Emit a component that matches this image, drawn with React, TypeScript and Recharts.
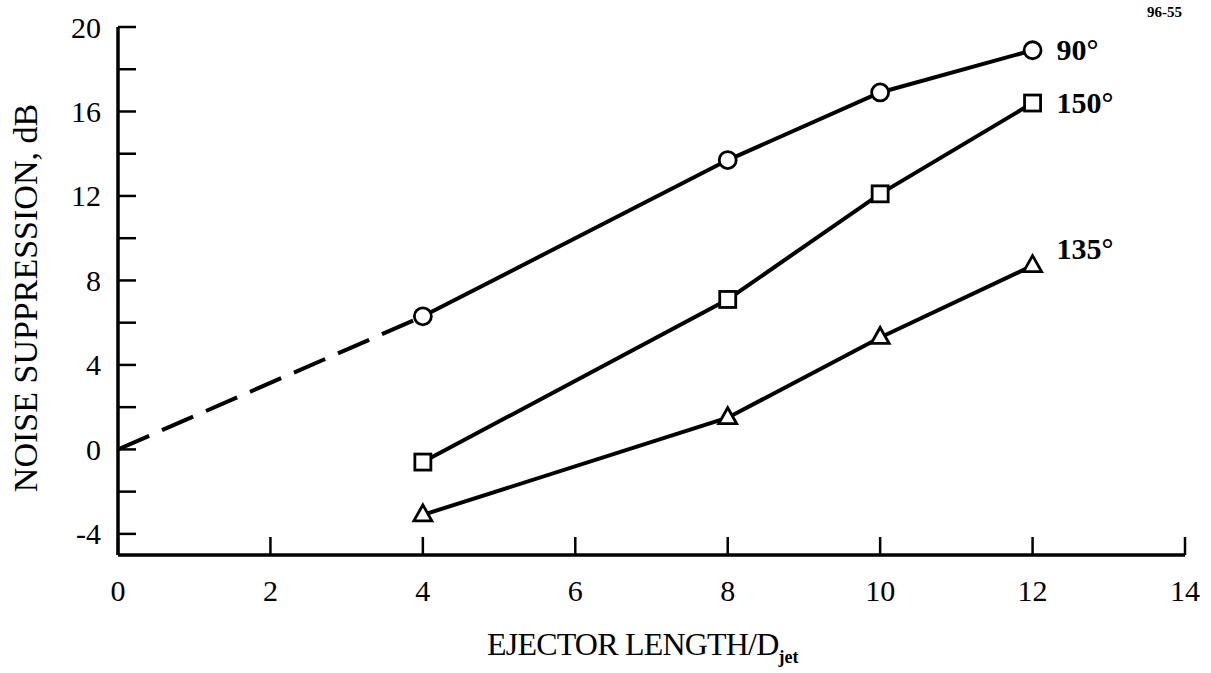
import React from "react";
import { LineChart, Line, XAxis, YAxis, LabelList } from "recharts";

// ejector length / D_jet where measurements were taken
const lengths = [4, 8, 10, 12];
// noise suppression (dB) per observer angle
const supp90 = [6.3, 13.7, 16.9, 18.9];
const supp150 = [-0.6, 7.1, 12.1, 16.4];
const supp135 = [-3.1, 1.5, 5.3, 8.7];
// dashed extrapolation of the 90 deg curve back to zero length
const extrapLengths = [0, 4];
const extrapSupp90 = [0, 6.3];

const seriesNames = ["90°", "150°", "135°"];
const xTicks = [0, 2, 4, 6, 8, 10, 12, 14];
const yTicks = [-4, -2, 0, 2, 4, 6, 8, 10, 12, 14, 16, 18, 20];
const yLabelled = [-4, 0, 4, 8, 12, 16, 20];

const FONT = "'Liberation Serif', 'Times New Roman', serif";
const INK = "#000";

const toRows = (xs: number[], ys: number[]) => xs.map((x, i) => ({ len: x, db: ys[i] }));

const rows90 = toRows(lengths, supp90);
const rows150 = toRows(lengths, supp150);
const rows135 = toRows(lengths, supp135);
const rowsExtrap = toRows(extrapLengths, extrapSupp90);

const CircleDot = (p: any) => (
  <circle key={`c${p.index}`} cx={p.cx} cy={p.cy} r={8.5} fill="#fff" stroke={INK} strokeWidth={2.8} />
);
const SquareDot = (p: any) => (
  <rect key={`s${p.index}`} x={p.cx - 8} y={p.cy - 8} width={16} height={16} fill="#fff" stroke={INK} strokeWidth={2.8} />
);
const TriangleDot = (p: any) => (
  <polygon
    key={`t${p.index}`}
    points={`${p.cx},${p.cy - 10} ${p.cx + 9},${p.cy + 6} ${p.cx - 9},${p.cy + 6}`}
    fill="#fff"
    stroke={INK}
    strokeWidth={2.8}
  />
);

const endLabel = (name: string, lastIndex: number, dy: number) => (p: any) => {
  if (p.index !== lastIndex) return null;
  return (
    <text x={p.x + 24} y={p.y + dy} fontFamily={FONT} fontWeight="bold" fontSize={30} fill={INK}>
      {name}
    </text>
  );
};

const XTick = (p: any) => (
  <text x={p.x} y={p.y} dy="0.72em" textAnchor="middle" fontFamily={FONT} fontSize={30} fill={INK}>
    {p.payload.value}
  </text>
);

const YTick = (p: any) =>
  yLabelled.includes(p.payload.value) ? (
    <text x={p.x} y={p.y} dy="0.35em" textAnchor="end" fontFamily={FONT} fontSize={30} fill={INK}>
      {p.payload.value}
    </text>
  ) : (
    <g />
  );

const XTitle = (p: any) => {
  const vb = p.viewBox;
  return (
    <text
      x={487}
      y={vb.y + 100}
      textAnchor="start"
      fontFamily={FONT}
      fontSize={32}
      letterSpacing={-0.8}
      fill={INK}
    >
      EJECTOR LENGTH/D
      <tspan fontSize={18} fontWeight="bold" letterSpacing={0} dy={8}>jet</tspan>
    </text>
  );
};

const YTitle = () => {
  const cy = 298;
  return (
    <text
      x={37}
      y={cy}
      transform={`rotate(-90, 37, ${cy})`}
      textAnchor="middle"
      fontFamily={FONT}
      fontSize={34}
      fill={INK}
    >
      NOISE SUPPRESSION, dB
    </text>
  );
};

const axisStroke = { stroke: INK, strokeWidth: 3.5 };
const tickLine = { stroke: INK, strokeWidth: 2.5 };

export default function App() {
  return (
    <div style={{ position: "absolute", left: 0, top: 0, width: 1211, height: 673, background: "#fff" }}>
      <LineChart width={1211} height={673} margin={{ top: 27, right: 26, bottom: 18, left: 18 }}>
        <XAxis
          xAxisId="b"
          dataKey="len"
          type="number"
          domain={[0, 14]}
          ticks={xTicks}
          allowDataOverflow
          height={100}
          tickSize={-18}
          tickMargin={42}
          tick={XTick}
          axisLine={axisStroke}
          tickLine={tickLine}
          label={XTitle}
        />
        <XAxis
          xAxisId="t"
          orientation="top"
          dataKey="len"
          type="number"
          domain={[0, 14]}
          ticks={xTicks}
          height={0}
          tickSize={-18}
          tickFormatter={() => ""}
          axisLine={axisStroke}
          tickLine={tickLine}
        />
        <YAxis
          yAxisId="l"
          dataKey="db"
          type="number"
          domain={[-5, 20]}
          ticks={yTicks}
          allowDataOverflow
          width={100}
          tickSize={-18}
          tickMargin={35}
          tick={YTick}
          axisLine={axisStroke}
          tickLine={tickLine}
          label={YTitle}
        />
        <YAxis
          yAxisId="r"
          orientation="right"
          dataKey="db"
          type="number"
          domain={[-5, 20]}
          ticks={yTicks}
          width={0}
          tickSize={-18}
          tickFormatter={() => ""}
          axisLine={axisStroke}
          tickLine={tickLine}
        />
        <Line
          xAxisId="b"
          yAxisId="l"
          data={rowsExtrap}
          dataKey="db"
          stroke={INK}
          strokeWidth={4}
          strokeDasharray="34 14"
          dot={false}
          isAnimationActive={false}
        />
        <Line
          xAxisId="b"
          yAxisId="l"
          data={rows90}
          dataKey="db"
          stroke={INK}
          strokeWidth={4}
          dot={CircleDot}
          isAnimationActive={false}
        >
          <LabelList dataKey="db" content={endLabel(seriesNames[0], lengths.length - 1, 10)} />
        </Line>
        <Line
          xAxisId="b"
          yAxisId="l"
          data={rows150}
          dataKey="db"
          stroke={INK}
          strokeWidth={4}
          dot={SquareDot}
          isAnimationActive={false}
        >
          <LabelList dataKey="db" content={endLabel(seriesNames[1], lengths.length - 1, 10)} />
        </Line>
        <Line
          xAxisId="b"
          yAxisId="l"
          data={rows135}
          dataKey="db"
          stroke={INK}
          strokeWidth={4}
          dot={TriangleDot}
          isAnimationActive={false}
        >
          <LabelList dataKey="db" content={endLabel(seriesNames[2], lengths.length - 1, -7)} />
        </Line>
      </LineChart>
      <div
        style={{
          position: "absolute",
          left: 1147,
          top: 4,
          fontFamily: FONT,
          fontWeight: "bold",
          fontSize: 15,
          color: INK,
        }}
      >
        96-55
      </div>
    </div>
  );
}
